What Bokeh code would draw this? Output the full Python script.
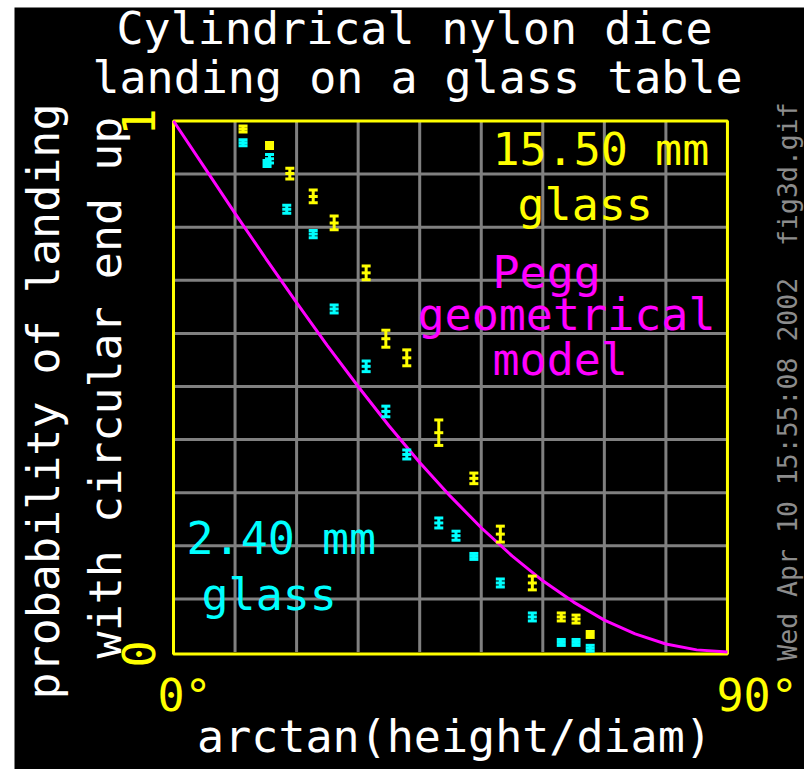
import numpy as np
from bokeh.plotting import figure
from bokeh.models import Label, Range1d
from bokeh.embed import file_html
from bokeh.resources import INLINE

# ---------------- data ----------------
# 15.50 mm dice (yellow)
angle_1550 = [11.3, 15.6, 18.9, 22.7, 26.1, 31.3, 34.5, 37.9, 43.1, 48.8, 53.1, 58.3, 63.0, 65.4, 67.7]
prob_1550 = [0.985, 0.954, 0.901, 0.858, 0.808, 0.714, 0.590, 0.554, 0.413, 0.327, 0.222, 0.130, 0.066, 0.062, 0.033]
err_1550 = [0.0056, 0.0056, 0.010, 0.012, 0.013, 0.013, 0.016, 0.015, 0.024, 0.010, 0.015, 0.013, 0.0075, 0.0075, 0.0056]

# 2.40 mm dice (cyan)
angle_240 = [11.3, 15.6, 15.2, 18.4, 22.7, 26.1, 31.3, 34.5, 37.9, 43.1, 45.9, 48.8, 53.1, 58.3, 63.0, 65.4, 67.7]
prob_240 = [0.959, 0.929, 0.920, 0.834, 0.787, 0.646, 0.538, 0.453, 0.372, 0.243, 0.219, 0.180, 0.130, 0.066, 0.018, 0.018, 0.007]
err_240 = [0.0056, 0.008, 0.0056, 0.0075, 0.007, 0.0075, 0.010, 0.010, 0.0085, 0.0094, 0.0085, 0.0056, 0.0075, 0.0075, 0.0056, 0.0056, 0.0056]

# Pegg geometrical model curve
model_angle = [0, 5, 10, 15, 20, 25, 30, 35, 40, 45, 50, 55, 60, 65, 70, 75, 80, 85, 90]
model_prob = [1.000, 0.913, 0.826, 0.741, 0.658, 0.577, 0.500, 0.426, 0.357, 0.293, 0.234,
              0.181, 0.134, 0.094, 0.060, 0.034, 0.015, 0.004, 0.000]

grid_x = [10, 20, 30, 40, 50, 60, 70, 80]
grid_y = [0.1, 0.2, 0.3, 0.4, 0.5, 0.6, 0.7, 0.8, 0.9]
x_ticks = [0, 90]
x_tick_labels = ["0°", "90°"]
y_ticks = [0, 1]
y_tick_labels = ["0", "1"]

# ---------------- layout helpers ----------------
BL, BT = 14, 7           # white border left / top (page pixels)
W, H = 804, 769          # figure size
SX, SY = 6.155, 531.0    # pixels per degree / per unit probability
OX, OY = 173.0, 651.5    # page position of (0deg, 0)
SHIFT = 0.345            # label baseline correction (fraction of font size)


def X(px):
    return (px - OX) / SX


def Y(py):
    return (OY - py) / SY


p = figure(width=W, height=H,
           x_range=Range1d(X(BL), X(W)),
           y_range=Range1d(Y(H), Y(BT)),
           output_backend="svg", toolbar_location=None,
           x_axis_location=None, y_axis_location=None,
           min_border_left=BL, min_border_top=BT, min_border_right=0, min_border_bottom=0,
           background_fill_color="black", border_fill_color="white",
           outline_line_color=None)
p.grid.visible = False

GRAY = "#808080"
YELLOW = "#ffff00"
CYAN = "#00ffff"
MAGENTA = "#ff00ff"
FONT = "DejaVu Sans Mono"

# grid
gx = np.array(grid_x, dtype=float)
gy = np.array(grid_y, dtype=float)
p.segment(x0=gx, y0=np.zeros_like(gx), x1=gx, y1=np.ones_like(gx), line_color=GRAY, line_width=3)
p.segment(x0=np.zeros_like(gy), y0=gy, x1=np.full_like(gy, 90.0), y1=gy, line_color=GRAY, line_width=3)

# frame
p.quad(left=[0], right=[90], bottom=[-0.0038], top=[1], fill_color=None, line_color=YELLOW, line_width=3)

# model curve
p.line(model_angle, model_prob, line_color=MAGENTA, line_width=3)


def draw_series(xs, ys, es, color):
    xs = np.asarray(xs, dtype=float)
    ys = np.asarray(ys, dtype=float)
    es = np.asarray(es, dtype=float)
    p.segment(x0=xs, y0=ys - es, x1=xs, y1=ys + es, line_color=color, line_width=3)
    for yy in (ys - es, ys, ys + es):
        p.rect(x=xs, y=yy, width=9, height=3, width_units="screen", height_units="screen",
               fill_color=color, line_color=None)


draw_series(angle_240, prob_240, err_240, CYAN)
draw_series(angle_1550, prob_1550, err_1550, YELLOW)


def lab(px, py, text, color, size=45.0, align="left", rotated=False):
    if rotated:
        px = px - SHIFT * size
    else:
        py = py - SHIFT * size
    p.add_layout(Label(x=X(px), y=Y(py), text=text, text_color=color, text_font=FONT,
                       text_font_size=f"{size}px", text_align=align, text_baseline="alphabetic",
                       angle=(np.pi / 2 if rotated else 0.0)))


# titles
lab(414, 44, "Cylindrical nylon dice", "white", align="center")
lab(417, 93, "landing on a glass table", "white", align="center")
lab(454, 752, "arctan(height/diam)", "white", align="center")

# y-axis title (rotated)
lab(59, 401, "probability of landing", "white", align="center", rotated=True)
lab(121, 387, "with circular end up", "white", align="center", rotated=True)

# tick labels
for t, s in zip(x_ticks, x_tick_labels):
    p.add_layout(Label(x=t, y=0, text=s, text_color=YELLOW, text_font=FONT, text_font_size="45px",
                       text_align="left", text_baseline="alphabetic",
                       x_offset=(-16 if t == 0 else -11), y_offset=-59.5 + SHIFT * 45))
for t, s in zip(y_ticks, y_tick_labels):
    p.add_layout(Label(x=0, y=t, text=s, text_color=YELLOW, text_font=FONT, text_font_size="45px",
                       text_align="center", text_baseline="alphabetic", angle=np.pi / 2,
                       x_offset=-19 - SHIFT * 45, y_offset=(-2 if t == 0 else -1)))

# in-plot annotations
lab(492, 165, "15.50 mm", YELLOW)
lab(517, 220, "glass", YELLOW)
lab(492, 288, "Pegg", MAGENTA)
lab(417, 330, "geometrical", MAGENTA)
lab(492, 375, "model", MAGENTA)
lab(186, 554, "2.40 mm", CYAN)
lab(201, 610, "glass", CYAN)

# side stamp
lab(796, 381, "Wed Apr 10 15:55:08 2002\u00a0 fig3d.gif", "#8c8c8c", size=26.5, align="center",
    rotated=True)

open("out.html", "w").write(file_html(p, INLINE))
